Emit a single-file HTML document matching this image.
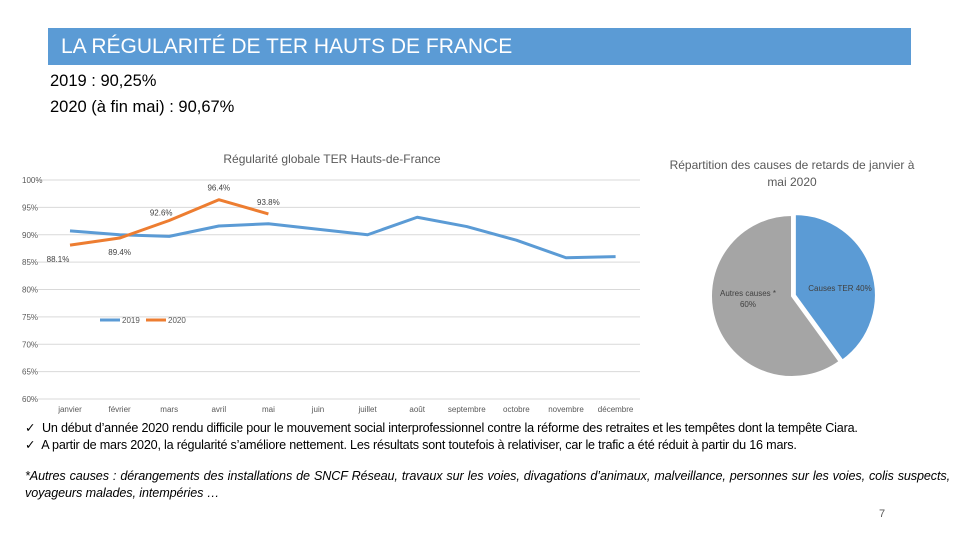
<!DOCTYPE html>
<html><head><meta charset="utf-8">
<style>
body{margin:0;width:960px;height:540px;background:#fff;font-family:"Liberation Sans",sans-serif;position:relative;overflow:hidden;color:#000}
.abs{position:absolute;white-space:nowrap}
</style></head><body>
<div class="abs" style="left:48px;top:28px;width:863px;height:37px;background:#5b9bd5;"></div>
<div class="abs" style="left:61px;top:35px;font-size:21px;color:#fff;">LA RÉGULARITÉ DE TER HAUTS DE FRANCE</div>
<div class="abs" style="left:50px;top:72px;font-size:16.5px;">2019 : 90,25%</div>
<div class="abs" style="left:50px;top:98px;font-size:16.5px;">2020 (à fin mai) : 90,67%</div>

<svg class="abs" style="left:0;top:0" width="960" height="540">
<text x="332" y="163" font-size="12" fill="#595959" text-anchor="middle">Régularité globale TER Hauts-de-France</text>
<g id="grid"></g><g id="lines"></g>
<text x="792" y="169" font-size="12" fill="#595959" text-anchor="middle">Répartition des causes de retards de janvier à</text>
<text x="792" y="186" font-size="12" fill="#595959" text-anchor="middle">mai 2020</text>
<g id="pie"></g>
</svg>

<div class="abs" style="left:25px;top:420px;font-size:12.6px;letter-spacing:-0.2px">✓&nbsp; Un début d’année 2020 rendu difficile pour le mouvement social interprofessionnel contre la réforme des retraites et les tempêtes dont la tempête Ciara.</div>
<div class="abs" style="left:25px;top:437px;font-size:12.6px;letter-spacing:-0.2px">✓&nbsp; A partir de mars 2020, la régularité s’améliore nettement. Les résultats sont toutefois à relativiser, car le trafic a été réduit à partir du 16 mars.</div>
<div class="abs" style="left:25px;top:468px;width:925px;white-space:normal;font-size:12.6px;font-style:italic;line-height:17px;text-align:justify;letter-spacing:-0.1px">*Autres causes : dérangements des installations de SNCF Réseau, travaux sur les voies, divagations d’animaux, malveillance, personnes sur les voies, colis suspects, voyageurs malades, intempéries …</div>
<div class="abs" style="left:879px;top:508px;font-size:11px;color:#595959">7</div>

<script>
const months=["janvier","février","mars","avril","mai","juin","juillet","août","septembre","octobre","novembre","décembre"];
const yTicks=[100,95,90,85,80,75,70,65,60];
const values2019=[90.7,90.0,89.7,91.6,92.0,91.0,90.0,93.2,91.5,89.0,85.8,86.0];
const values2020=[88.1,89.4,92.6,96.4,93.8];
const labels2020=["88.1%","89.4%","92.6%","96.4%","93.8%"];
const pieLabels=["Causes TER 40%","Autres causes * 60%"];
const pieValues=[40,60];

const NS="http://www.w3.org/2000/svg";
function mk(tag,attrs,parent){const e=document.createElementNS(NS,tag);for(const k in attrs)e.setAttribute(k,attrs[k]);parent.appendChild(e);return e;}
const xS=i=>70+i*49.6;
const yS=v=>180+(100-v)*(219/40);
const grid=document.getElementById('grid'), lines=document.getElementById('lines');
yTicks.forEach(t=>{
  const l=mk('line',{x1:38,x2:640,y1:yS(t),y2:yS(t),stroke:'#d9d9d9','stroke-width':1},grid);
  
  
  const tx=mk('text',{x:22,y:yS(t)+3,'font-size':8,fill:'#595959','text-anchor':'start'},grid);
  tx.textContent=t+'%';
  
  
});
months.forEach((m,i)=>{
  const tx=mk('text',{x:xS(i),y:412,'font-size':8,fill:'#595959','text-anchor':'middle'},grid);
  tx.textContent=m;
  
  
});
function series(vals,color,name){
  const p=mk('polyline',{points:vals.map((v,i)=>xS(i)+','+yS(v)).join(' '),fill:'none',stroke:color,'stroke-width':3,'stroke-linejoin':'round'},lines);
  
  
}
series(values2019,'#5b9bd5','line-2019');
series(values2020,'#ed7d31','line-2020');
const offs=[[-12,14],[0,14],[-8,-8],[0,-12],[0,-12]];
values2020.forEach((v,i)=>{
  const tx=mk('text',{x:xS(i)+offs[i][0],y:yS(v)+offs[i][1]+3,'font-size':8,fill:'#404040','text-anchor':'middle'},lines);
  tx.textContent=labels2020[i];
  
  
});
[['#5b9bd5','2019',100],['#ed7d31','2020',146]].forEach(([c,t,x])=>{
  const l=mk('line',{x1:x,x2:x+20,y1:320,y2:320,stroke:c,'stroke-width':3},lines);
  
  
  const tx=mk('text',{x:x+22,y:323,'font-size':8,fill:'#595959'},lines);
  tx.textContent=t;
  
  
});
const pie=document.getElementById('pie');
const cx=792,cy=296,r=81,total=pieValues.reduce((a,b)=>a+b,0);
const colors=['#5b9bd5','#a5a5a5'];
let start=-Math.PI/2;
pieValues.forEach((v,i)=>{
  const a=v/total*2*Math.PI, mid=start+a/2;
  const ex=i===0?3:0, ox=cx+ex*Math.cos(mid), oy=cy+ex*Math.sin(mid);
  const x1=ox+r*Math.cos(start),y1=oy+r*Math.sin(start),x2=ox+r*Math.cos(start+a),y2=oy+r*Math.sin(start+a);
  const p=mk('path',{d:`M${ox},${oy} L${x1},${y1} A${r},${r} 0 ${a>Math.PI?1:0} 1 ${x2},${y2} Z`,fill:colors[i],stroke:'#fff','stroke-width':2},pie);
  
  
  start+=a;
});
const l1=mk('text',{x:840,y:291,'font-size':8,fill:'#404040','text-anchor':'middle'},pie);
l1.textContent=pieLabels[0];


const l2=mk('text',{x:748,y:296,'font-size':8,fill:'#404040','text-anchor':'middle'},pie);
l2.textContent='Autres causes *';


const l3=mk('text',{x:748,y:307,'font-size':8,fill:'#404040','text-anchor':'middle'},pie);
l3.textContent=pieLabels[1].split(' ').pop();


</script>
</body></html>
